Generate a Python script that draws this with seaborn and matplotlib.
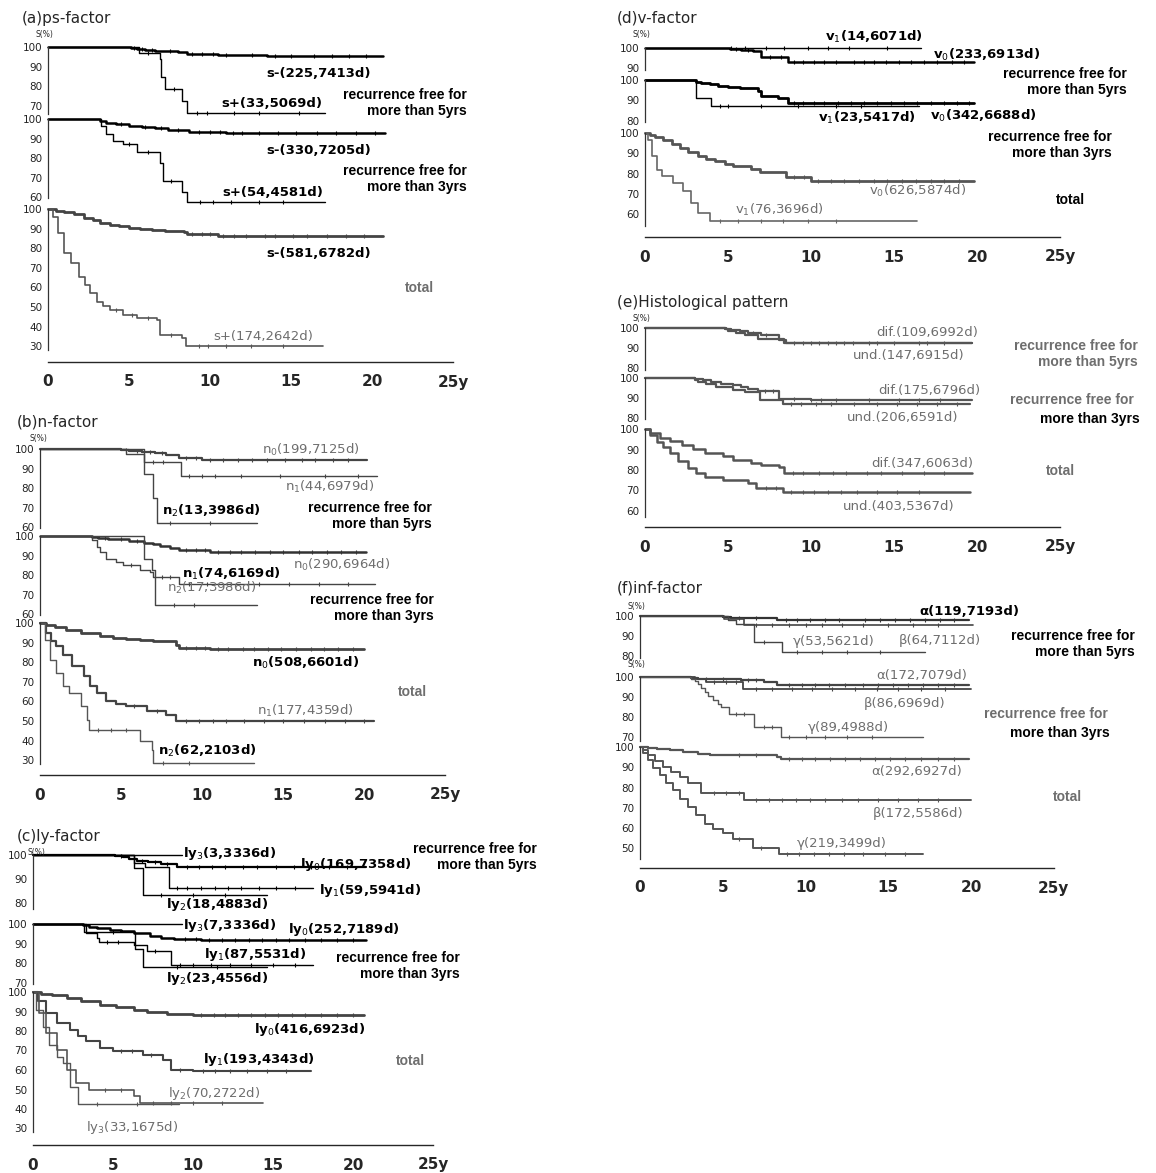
import numpy as np
import matplotlib
matplotlib.use("Agg")
import matplotlib.pyplot as plt
import seaborn as sns

W, H = 1156, 1173
GRAY = "#6e6e6e"

# ---------------- (a) ps-factor ----------------
a5_neg_t = [0, 5.1, 5.5, 6.0, 6.6, 7.2, 8.0, 8.6, 10.5, 13.5, 20.7]
a5_neg_s = [100, 99.5, 99.0, 98.5, 98.0, 97.8, 97.3, 96.4, 95.8, 95.3, 95.3]
a5_neg_c = [5.3, 5.8, 6.4, 7.5, 8.9, 9.5, 10.2, 11.0, 12.6, 14.0, 15.0, 16.4, 17.5, 18.6, 19.6]
a5_pos_t = [0, 5.6, 6.9, 7.0, 7.2, 8.3, 8.6, 17.1]
a5_pos_s = [100, 97.0, 93.9, 84.8, 78.8, 72.7, 66.7, 66.7]
a5_pos_c = [6.2, 7.8, 9.2, 9.8, 11.5, 13.0, 15.5]

a3_neg_t = [0, 3.2, 3.6, 4.2, 5.0, 5.8, 6.6, 7.4, 8.4, 8.7, 11.0, 20.8]
a3_neg_s = [100, 99.0, 98.0, 97.2, 96.5, 95.8, 95.2, 94.6, 94.2, 93.4, 93.0, 93.0]
a3_neg_c = [4.5, 6.0, 7.0, 8.0, 9.3, 10.0, 10.6, 11.4, 12.0, 13.0, 14.2, 15.3, 16.6, 17.8, 19.0, 20.2]
a3_pos_t = [0, 3.3, 3.6, 4.0, 4.6, 5.5, 6.9, 7.1, 8.3, 8.6, 17.1]
a3_pos_s = [100, 96.3, 92.6, 88.9, 87.0, 83.3, 77.8, 68.5, 63.0, 57.4, 57.4]
a3_pos_c = [5.0, 6.2, 7.6, 9.4, 10.2, 11.3, 13.0, 14.5]

a0_neg_t = [0, 0.5, 1.0, 1.6, 2.2, 2.8, 3.2, 3.8, 4.4, 5.0, 5.7, 6.4, 7.2, 8.4, 8.6, 10.5, 20.7]
a0_neg_s = [100, 99.2, 98.4, 97.3, 95.4, 94.2, 93.0, 92.0, 91.2, 90.5, 89.9, 89.3, 88.7, 88.1, 87.0, 86.3, 86.3]
a0_neg_c = [8.9, 9.5, 10.0, 10.8, 11.5, 12.2, 13.4, 14.0, 15.1, 16.0, 17.2, 18.4, 19.5]
a0_pos_t = [0, 0.3, 0.6, 1.0, 1.4, 1.9, 2.3, 2.6, 3.0, 3.4, 3.8, 4.6, 5.5, 6.7, 6.9, 8.3, 8.5, 17.0]
a0_pos_s = [100, 96.0, 87.7, 77.5, 72.4, 65.5, 61.0, 57.0, 52.7, 50.5, 48.5, 46.0, 44.2, 43.4, 35.7, 34.0, 30.0, 30.0]
a0_pos_c = [4.2, 5.2, 6.2, 7.6, 9.3, 9.9, 11.0, 12.5, 14.5]

# ---------------- (b) n-factor ----------------
b5_n0_t = [0, 5.0, 5.5, 6.3, 7.1, 7.8, 8.6, 10.0, 20.2]
b5_n0_s = [100, 99.5, 99.0, 98.5, 98.0, 96.8, 95.4, 94.5, 94.5]
b5_n0_c = [5.3, 6.0, 6.8, 7.5, 9.0, 9.6, 10.5, 11.3, 12.2, 13.1, 14.0, 15.1, 16.2, 17.0, 18.1, 19.0]
b5_n1_t = [0, 5.3, 6.4, 8.7, 20.8]
b5_n1_s = [100, 97.7, 93.2, 86.4, 86.4]
b5_n1_c = [7.0, 7.6, 9.2, 10.0, 10.8, 12.4, 14.8, 17.6, 19.6]
b5_n2_t = [0, 6.4, 7.0, 7.2, 13.4]
b5_n2_s = [100, 87.0, 75.0, 62.0, 62.0]
b5_n2_c = [8.0, 10.5]

b3_n0_t = [0, 3.2, 3.6, 4.2, 4.7, 5.5, 6.4, 7.0, 7.4, 8.0, 8.6, 10.5, 20.1]
b3_n0_s = [100, 99.6, 99.0, 98.6, 98.3, 97.4, 96.6, 95.7, 94.9, 93.8, 92.9, 92.0, 92.0]
b3_n0_c = [4.0, 5.0, 6.0, 9.0, 9.6, 10.2, 11.0, 11.7, 12.4, 13.3, 14.2, 15.0, 16.0, 16.8, 17.7, 18.6, 19.5]
b3_n1_t = [0, 3.2, 3.5, 3.7, 4.1, 4.7, 5.1, 6.2, 6.8, 7.0, 8.6, 20.7]
b3_n1_s = [100, 97.8, 94.6, 91.8, 88.4, 86.7, 85.0, 82.5, 81.6, 79.0, 75.7, 75.7]
b3_n1_c = [5.6, 7.5, 8.0, 9.2, 10.3, 11.8, 13.5, 15.4, 17.2, 19.0]
b3_n2_t = [0, 6.4, 6.9, 7.1, 13.4]
b3_n2_s = [100, 88.2, 82.4, 64.7, 64.7]
b3_n2_c = [8.3, 9.5]

b0_n0_t = [0, 0.4, 0.9, 1.6, 2.5, 3.7, 4.5, 5.3, 6.2, 7.0, 8.4, 8.6, 10.5, 20.0]
b0_n0_s = [100, 99.0, 98.0, 96.6, 95.0, 93.5, 92.6, 91.8, 91.2, 90.6, 88.9, 87.2, 86.5, 86.5]
b0_n0_c = [9.0, 9.6, 10.2, 11.0, 11.6, 12.5, 13.2, 14.1, 14.9, 15.8, 16.7, 17.5, 18.4, 19.3]
b0_n1_t = [0, 0.4, 0.7, 1.0, 1.4, 2.0, 2.7, 3.1, 3.5, 4.1, 4.7, 5.3, 6.6, 7.8, 8.4, 20.6]
b0_n1_s = [100, 94.9, 91.0, 88.1, 83.8, 77.9, 72.8, 68.0, 64.3, 60.0, 58.5, 57.5, 54.9, 53.2, 50.2, 50.2]
b0_n1_c = [5.8, 7.2, 9.0, 9.8, 10.7, 11.5, 12.6, 13.8, 15.0, 16.3, 17.6, 18.8, 20.0]
b0_n2_t = [0, 0.3, 0.6, 1.0, 1.4, 1.8, 2.5, 2.9, 3.0, 6.2, 6.9, 7.0, 13.2]
b0_n2_s = [100, 91.5, 81.3, 74.5, 67.7, 64.3, 57.5, 50.7, 45.6, 39.6, 35.3, 28.5, 28.5]
b0_n2_c = [3.6, 4.4, 5.3, 7.6, 9.2]

# ---------------- (c) ly-factor ----------------
c5_ly3_t = [0, 9.3]
c5_ly3_s = [100, 100]
c5_ly0_t = [0, 5.1, 5.6, 6.0, 6.5, 7.2, 8.0, 9.0, 20.8]
c5_ly0_s = [100, 99.5, 99.0, 98.3, 97.6, 96.9, 96.2, 95.0, 95.0]
c5_ly0_c = [5.5, 6.8, 7.6, 8.4, 9.6, 10.4, 11.2, 12.0, 13.1, 14.0, 15.2, 16.3, 17.4, 18.5, 19.6]
c5_ly1_t = [0, 6.3, 7.0, 8.5, 17.5]
c5_ly1_s = [100, 96.6, 94.9, 86.4, 86.4]
c5_ly1_c = [9.0, 9.6, 10.5, 11.4, 12.2, 13.0, 14.1, 15.2, 16.4]
c5_ly2_t = [0, 6.3, 6.9, 14.6]
c5_ly2_s = [100, 94.4, 83.3, 83.3]
c5_ly2_c = [8.0, 10.0, 12.0]

c3_ly3_t = [0, 9.3]
c3_ly3_s = [100, 100]
c3_ly0_t = [0, 3.1, 3.5, 4.0, 4.8, 5.5, 6.3, 7.3, 8.0, 8.8, 10.5, 20.8]
c3_ly0_s = [100, 99.3, 98.6, 97.8, 97.1, 96.2, 95.4, 93.7, 93.0, 92.3, 91.7, 91.7]
c3_ly0_c = [9.5, 10.2, 11.0, 11.8, 12.6, 13.5, 14.3, 15.2, 16.0, 17.0, 18.0, 19.0, 20.0]
c3_ly1_t = [0, 3.3, 4.0, 4.1, 6.3, 7.1, 8.6, 17.5]
c3_ly1_s = [100, 95.4, 92.9, 90.6, 89.5, 86.1, 78.9, 78.9]
c3_ly1_c = [4.6, 5.3, 7.6, 9.2, 10.0, 11.1, 12.3, 13.6, 15.0, 16.4]
c3_ly2_t = [0, 3.2, 6.4, 6.9, 14.6]
c3_ly2_s = [100, 95.7, 87.0, 78.3, 78.3]
c3_ly2_c = [5.0, 9.0, 11.5]

c0_ly0_t = [0, 0.5, 1.2, 2.1, 3.0, 4.2, 5.2, 6.3, 7.1, 8.4, 10.0, 20.7]
c0_ly0_s = [100, 99.2, 98.4, 97.0, 95.5, 93.5, 92.2, 91.0, 89.6, 88.8, 88.0, 88.0]
c0_ly0_c = [10.5, 11.3, 12.0, 12.8, 13.6, 14.5, 15.3, 16.2, 17.0, 18.0, 19.0, 20.0]
c0_ly1_t = [0, 0.3, 0.8, 1.5, 2.3, 2.8, 3.3, 4.2, 5.0, 6.9, 8.1, 8.6, 10.0, 17.4]
c0_ly1_s = [100, 95.2, 89.3, 84.1, 80.7, 77.5, 74.7, 71.3, 69.6, 67.9, 65.3, 60.2, 59.3, 59.3]
c0_ly1_c = [5.5, 6.2, 7.4, 9.2, 10.6, 11.4, 12.3, 13.4, 14.6, 15.8]
c0_ly2_t = [0, 0.4, 0.8, 1.5, 2.1, 2.7, 3.5, 6.3, 6.7, 14.4]
c0_ly2_s = [100, 89.3, 79.0, 70.5, 60.2, 53.3, 49.9, 46.5, 42.9, 42.9]
c0_ly2_c = [4.5, 5.5, 7.5, 8.6, 10.0, 11.8]
c0_ly3_t = [0, 0.2, 0.6, 1.0, 1.5, 1.9, 2.3, 2.8, 9.1]
c0_ly3_s = [100, 90.9, 81.8, 72.7, 66.7, 63.6, 51.5, 42.4, 42.4]
c0_ly3_c = [4.0, 6.5]

# ---------------- (d) v-factor ----------------
d5_v1_t = [0, 16.6]
d5_v1_s = [100, 100]
d5_v1_c = [5.2, 6.0, 7.3, 8.4, 9.8, 11.0, 12.3, 14.6]
d5_v0_t = [0, 5.1, 5.8, 6.5, 7.0, 8.6, 19.8]
d5_v0_s = [100, 99.4, 98.9, 98.4, 95.7, 93.1, 93.1]
d5_v0_c = [5.5, 6.2, 7.5, 8.2, 9.0, 9.5, 10.2, 10.8, 11.5, 12.6, 13.2, 13.8, 14.5, 15.3, 16.0, 16.8, 17.6, 18.5, 19.2]

d3_v0_t = [0, 3.1, 3.4, 3.9, 4.4, 5.0, 5.7, 6.8, 7.0, 8.0, 8.6, 19.8]
d3_v0_s = [100, 99.2, 98.5, 97.8, 97.0, 96.4, 95.9, 94.7, 92.1, 91.0, 88.5, 88.5]
d3_v0_c = [9.0, 9.5, 10.2, 10.8, 11.6, 12.4, 13.2, 14.0, 14.8, 15.6, 16.4, 17.2, 18.0, 18.8, 19.5]
d3_v1_t = [0, 3.1, 4.0, 16.5]
d3_v1_s = [100, 91.3, 87.0, 87.0]
d3_v1_c = [4.5, 5.0, 7.0, 9.2, 11.5, 13.0]

d0_v0_t = [0, 0.3, 0.6, 1.1, 1.6, 2.1, 2.6, 3.2, 3.7, 4.2, 4.8, 5.3, 6.4, 6.9, 8.5, 10.0, 19.8]
d0_v0_s = [100, 99.0, 98.0, 96.7, 94.6, 92.6, 90.5, 88.5, 87.2, 86.0, 84.7, 83.6, 82.4, 80.8, 78.3, 76.5, 76.5]
d0_v0_c = [9.0, 9.6, 10.4, 11.2, 12.0, 12.9, 13.8, 14.6, 15.5, 16.3, 17.2, 18.0, 18.9]
d0_v1_t = [0, 0.2, 0.4, 0.7, 1.0, 1.7, 2.3, 2.8, 3.2, 3.9, 16.4]
d0_v1_s = [100, 96.7, 88.5, 82.0, 78.7, 75.4, 71.3, 65.6, 60.6, 56.5, 56.5]
d0_v1_c = [4.5, 5.6, 7.0, 8.3, 9.8, 11.5]

# ---------------- (e) histological pattern ----------------
e5_dif_t = [0, 4.9, 5.2, 5.7, 6.2, 7.0, 8.1, 8.5, 19.7]
e5_dif_s = [100, 99.6, 99.2, 98.3, 97.5, 96.7, 94.2, 92.5, 92.5]
e5_dif_c = [6.5, 7.3, 9.0, 10.0, 11.0, 12.0, 13.5, 15.0, 16.5, 18.0]
e5_und_t = [0, 4.8, 5.0, 5.5, 6.0, 6.8, 8.4, 19.7]
e5_und_s = [100, 99.3, 98.6, 97.5, 96.5, 94.5, 92.3, 92.3]
e5_und_c = [9.5, 10.5, 11.5, 12.5, 14.0, 17.0]

e3_dif_t = [0, 3.0, 3.5, 4.0, 4.6, 5.3, 5.8, 6.2, 6.8, 8.1, 10.0, 19.7]
e3_dif_s = [100, 99.4, 98.8, 98.0, 97.2, 96.3, 95.5, 94.7, 93.3, 89.7, 89.2, 89.2]
e3_dif_c = [7.2, 7.7, 9.0, 10.0, 10.6, 11.5, 13.5, 15.3, 16.5, 17.8]
e3_und_t = [0, 3.0, 3.2, 3.7, 4.3, 5.3, 6.0, 6.9, 8.3, 19.6]
e3_und_s = [100, 99.0, 98.0, 96.8, 95.5, 93.8, 93.0, 89.2, 87.2, 87.2]
e3_und_c = [8.8, 9.4, 10.3, 11.2, 12.6, 14.0, 15.2, 16.4, 17.6, 18.8]

e0_dif_t = [0, 0.3, 0.9, 1.5, 2.2, 2.9, 3.6, 4.7, 5.3, 6.4, 7.0, 8.1, 8.4, 19.7]
e0_dif_s = [100, 98.2, 95.6, 94.0, 92.3, 90.2, 88.2, 86.6, 84.9, 83.6, 82.5, 81.6, 78.7, 78.7]
e0_dif_c = [8.9, 9.5, 10.5, 11.3, 12.1, 13.4, 14.2, 15.5, 16.8, 18.0]
e0_und_t = [0, 0.3, 0.7, 1.1, 1.5, 2.0, 2.6, 3.1, 3.6, 4.7, 6.2, 6.7, 8.3, 19.6]
e0_und_s = [100, 97.0, 93.9, 91.0, 88.2, 84.5, 80.8, 78.5, 76.7, 75.1, 73.8, 71.0, 69.3, 69.3]
e0_und_c = [7.3, 7.9, 8.8, 9.5, 10.2, 11.0, 11.8, 12.8, 14.0, 15.2, 16.5]

# ---------------- (f) inf-factor ----------------
f5_a_t = [0, 5.0, 5.5, 6.5, 8.3, 19.9]
f5_a_s = [100, 99.6, 99.2, 98.8, 97.8, 97.8]
f5_a_c = [6.0, 7.0, 8.8, 9.5, 10.3, 11.2, 12.0, 13.6, 14.5, 15.4, 16.3, 17.2, 18.1, 19.0]
f5_b_t = [0, 5.1, 6.3, 20.1]
f5_b_s = [100, 98.4, 95.3, 95.3]
f5_b_c = [7.0, 8.0, 9.0, 10.0, 11.0, 12.2, 13.5, 15.0, 16.5, 18.0]
f5_g_t = [0, 5.3, 5.8, 6.9, 8.6, 17.2]
f5_g_s = [100, 98.1, 96.2, 86.8, 81.7, 81.7]
f5_g_c = [7.5, 9.5, 11.0, 12.5, 14.5]

f3_a_t = [0, 3.1, 3.5, 4.5, 6.1, 7.5, 8.3, 19.9]
f3_a_s = [100, 99.4, 99.2, 98.8, 98.3, 97.7, 96.0, 96.0]
f3_a_c = [4.0, 5.0, 6.5, 7.0, 9.0, 9.8, 10.6, 11.4, 12.4, 13.5, 14.4, 15.3, 16.2, 17.1, 18.0, 19.0]
f3_b_t = [0, 3.3, 4.0, 6.2, 20.0]
f3_b_s = [100, 98.8, 97.7, 94.2, 94.2]
f3_b_c = [4.5, 5.2, 5.8, 7.0, 8.0, 9.2, 10.4, 11.6, 13.0, 14.3, 15.6, 17.0, 18.4]
f3_g_t = [0, 3.1, 3.3, 3.5, 3.7, 3.9, 4.1, 4.4, 4.7, 4.9, 5.4, 6.9, 8.5, 17.1]
f3_g_s = [100, 98.9, 97.8, 96.7, 94.4, 92.5, 90.4, 88.3, 86.5, 85.0, 81.7, 75.0, 70.0, 70.0]
f3_g_c = [5.8, 6.3, 7.5, 8.0, 9.0, 10.0, 11.2, 12.5, 14.0]

f0_a_t = [0, 0.5, 1.0, 1.8, 2.6, 3.5, 4.2, 5.0, 8.3, 8.5, 19.9]
f0_a_s = [100, 99.6, 99.2, 98.4, 97.6, 96.7, 96.2, 95.9, 95.1, 94.3, 94.3]
f0_a_c = [6.0, 7.0, 9.0, 9.8, 10.6, 11.5, 12.4, 13.3, 14.2, 15.1, 16.0, 17.0, 18.0, 19.0]
f0_b_t = [0, 0.2, 0.5, 0.9, 1.4, 1.9, 2.4, 2.9, 3.7, 6.3, 20.0]
f0_b_s = [100, 98.5, 95.9, 93.0, 90.2, 87.5, 85.2, 82.3, 77.4, 73.8, 73.8]
f0_b_c = [4.5, 5.2, 6.0, 7.0, 7.8, 8.6, 9.4, 10.3, 11.2, 12.2, 13.2, 14.4, 15.6, 16.8, 18.0]
f0_g_t = [0, 0.2, 0.5, 0.8, 1.2, 1.6, 2.0, 2.4, 2.9, 3.4, 3.9, 4.4, 5.0, 5.6, 6.8, 8.4, 17.1]
f0_g_s = [100, 97.0, 93.4, 89.8, 86.1, 82.4, 78.7, 74.6, 70.5, 66.4, 62.3, 59.8, 57.4, 54.9, 50.0, 47.5, 47.5]
f0_g_c = [6.0, 7.3, 8.9, 9.6, 10.5, 11.4, 12.3, 13.5, 14.8, 16.0]


sns.set_style("white")
plt.rcParams["font.family"] = ["DejaVu Sans"]

fig = plt.figure(figsize=(W / 100, H / 100), dpi=100)


def px(x, y):
    return x / W, 1 - y / H


def sub_axes(x0, ppy, ytop, lo, ppp, ticks):
    bottom = ytop + (100 - lo) * ppp
    ax = fig.add_axes([x0 / W, 1 - bottom / H, 25 * ppy / W, (bottom - ytop) / H])
    ax.set_xlim(0, 25)
    ax.set_ylim(lo, 100)
    ax.set_xticks([])
    ax.set_yticks(ticks)
    ax.set_yticklabels([str(t) for t in ticks])
    ax.tick_params(axis="y", labelsize=7.5, length=2.5, width=0.8, pad=1.5, colors="#222222")
    sns.despine(ax=ax, top=True, right=True, bottom=True)
    ax.spines["left"].set_linewidth(0.9)
    ax.spines["left"].set_color("#333333")
    ax.patch.set_alpha(0)
    return ax


def x_axis(x0, ppy, y):
    ax = fig.add_axes([x0 / W, 1 - y / H, 25 * ppy / W, 0.0001])
    ax.set_xlim(0, 25)
    ax.set_yticks([])
    ax.set_xticks([0, 5, 10, 15, 20, 25])
    ax.set_xticklabels(["0", "5", "10", "15", "20", "25y"])
    ax.tick_params(axis="x", direction="out", length=7, width=1.0, labelsize=11, pad=2)
    for lab in ax.get_xticklabels():
        lab.set_fontweight("bold")
    sns.despine(ax=ax, top=True, right=True, left=True)
    ax.spines["bottom"].set_linewidth(1.0)
    ax.patch.set_alpha(0)


def panel(x0, ppy, subs, xy, title, txy, sxy):
    axs = [sub_axes(x0, ppy, *s) for s in subs]
    x_axis(x0, ppy, xy)
    fig.text(*px(*txy), title, fontsize=11, ha="left", va="center")
    for p in sxy:
        fig.text(*px(*p), "S(%)", fontsize=5.5, ha="left", va="center")
    return axs


def km(ax, t, s, c=None, color="black", lw=1.0):
    sns.lineplot(x=t, y=s, ax=ax, drawstyle="steps-post", color=color, lw=lw,
                 estimator=None, sort=False, legend=False, clip_on=False)
    if c:
        idx = np.searchsorted(t, c, side="right") - 1
        ys = np.asarray(s)[idx]
        ax.plot(c, ys, ls="none", marker="|", ms=2.8, mew=0.8, color=color, clip_on=False)


def lab(ax, x, y, text, color="black"):
    w = "bold" if color == "black" else "normal"
    ax.text(x, y, text, fontsize=9.5, ha="center", va="center", color=color,
            fontweight=w, clip_on=False)


def side(x, y, text, color="black"):
    fig.text(*px(x, y), text, fontsize=10, ha="right", va="center", color=color,
             fontweight="bold", family="Liberation Sans", linespacing=1.2)


# ---- (a)
ax = panel(48, 16.2, [(47, 66, 1.97, [100, 90, 80, 70]),
                      (119, 59.5, 1.96, [100, 90, 80, 70, 60]),
                      (209, 28, 1.96, [100, 90, 80, 70, 60, 50, 40, 30])],
           362, "(a)ps-factor", (22, 18), [(35, 35)])
km(ax[0], a5_neg_t, a5_neg_s, a5_neg_c, lw=1.8)
km(ax[0], a5_pos_t, a5_pos_s, a5_pos_c, lw=1.0)
km(ax[1], a3_neg_t, a3_neg_s, a3_neg_c, lw=1.8)
km(ax[1], a3_pos_t, a3_pos_s, a3_pos_c, lw=1.0)
km(ax[2], a0_neg_t, a0_neg_s, a0_neg_c, color="#444444", lw=2.0)
km(ax[2], a0_pos_t, a0_pos_s, a0_pos_c, color="#555555", lw=1.2)
lab(ax[0], 16.7, 86.7, "s-(225,7413d)")
lab(ax[0], 13.8, 71.4, "s+(33,5069d)")
lab(ax[1], 16.7, 84.0, "s-(330,7205d)")
lab(ax[1], 13.9, 62.6, "s+(54,4581d)")
lab(ax[2], 16.7, 77.5, "s-(581,6782d)")
lab(ax[2], 13.3, 34.8, "s+(174,2642d)", GRAY)
side(467, 103, "recurrence free for\nmore than 5yrs")
side(467, 179, "recurrence free for\nmore than 3yrs")
side(434, 288, "total", GRAY)

# ---- (b)
ax = panel(40, 16.2, [(449, 59.5, 1.96, [100, 90, 80, 70, 60]),
                      (536, 59.5, 1.96, [100, 90, 80, 70, 60]),
                      (623, 28, 1.96, [100, 90, 80, 70, 60, 50, 40, 30])],
           775, "(b)n-factor", (17, 422), [(30, 438)])
km(ax[0], b5_n0_t, b5_n0_s, b5_n0_c, color="#444444", lw=1.6)
km(ax[0], b5_n1_t, b5_n1_s, b5_n1_c, color="#444444", lw=1.0)
km(ax[0], b5_n2_t, b5_n2_s, b5_n2_c, color="#444444", lw=1.0)
km(ax[1], b3_n0_t, b3_n0_s, b3_n0_c, color="#333333", lw=1.8)
km(ax[1], b3_n1_t, b3_n1_s, b3_n1_c, color="#444444", lw=1.0)
km(ax[1], b3_n2_t, b3_n2_s, b3_n2_c, color="#444444", lw=1.0)
km(ax[2], b0_n0_t, b0_n0_s, b0_n0_c, color="#444444", lw=2.0)
km(ax[2], b0_n1_t, b0_n1_s, b0_n1_c, color="#444444", lw=1.6)
km(ax[2], b0_n2_t, b0_n2_s, b0_n2_c, color="#555555", lw=1.0)
lab(ax[0], 16.7, 99.5, "n$_0$(199,7125d)", GRAY)
lab(ax[0], 17.9, 80.8, "n$_1$(44,6979d)", GRAY)
lab(ax[0], 10.6, 68.2, "n$_2$(13,3986d)")
lab(ax[1], 11.8, 80.6, "n$_1$(74,6169d)")
lab(ax[1], 18.6, 85.4, "n$_0$(290,6964d)", GRAY)
lab(ax[1], 10.6, 73.5, "n$_2$(17,3986d)", GRAY)
lab(ax[2], 16.4, 79.6, "n$_0$(508,6601d)")
lab(ax[2], 16.4, 55.3, "n$_1$(177,4359d)", GRAY)
lab(ax[2], 10.3, 34.5, "n$_2$(62,2103d)")
side(432, 516, "recurrence free for\nmore than 5yrs")
side(434, 608, "recurrence free for\nmore than 3yrs")
side(427, 692, "total", GRAY)

# ---- (c)
ax = panel(33, 16.0, [(855, 77.5, 2.4, [100, 90, 80]),
                      (924, 69.5, 1.96, [100, 90, 80, 70]),
                      (992, 28, 1.95, [100, 90, 80, 70, 60, 50, 40, 30])],
           1145, "(c)ly-factor", (17, 837), [(28, 852)])
km(ax[0], c5_ly3_t, c5_ly3_s, None, lw=1.0)
km(ax[0], c5_ly0_t, c5_ly0_s, c5_ly0_c, lw=1.6)
km(ax[0], c5_ly1_t, c5_ly1_s, c5_ly1_c, lw=1.0)
km(ax[0], c5_ly2_t, c5_ly2_s, c5_ly2_c, lw=1.0)
km(ax[1], c3_ly3_t, c3_ly3_s, None, lw=1.0)
km(ax[1], c3_ly0_t, c3_ly0_s, c3_ly0_c, lw=1.8)
km(ax[1], c3_ly1_t, c3_ly1_s, c3_ly1_c, lw=1.0)
km(ax[1], c3_ly2_t, c3_ly2_s, c3_ly2_c, lw=1.0)
km(ax[2], c0_ly0_t, c0_ly0_s, c0_ly0_c, color="#444444", lw=2.0)
km(ax[2], c0_ly1_t, c0_ly1_s, c0_ly1_c, color="#444444", lw=1.5)
km(ax[2], c0_ly2_t, c0_ly2_s, c0_ly2_c, color="#555555", lw=1.2)
km(ax[2], c0_ly3_t, c0_ly3_s, c0_ly3_c, color="#555555", lw=1.0)
lab(ax[0], 12.3, 100.6, "ly$_3$(3,3336d)")
lab(ax[0], 20.2, 96.2, "ly$_0$(169,7358d)")
lab(ax[0], 21.1, 85.1, "ly$_1$(59,5941d)")
lab(ax[0], 11.5, 79.2, "ly$_2$(18,4883d)")
lab(ax[1], 12.3, 99.1, "ly$_3$(7,3336d)")
lab(ax[1], 19.4, 97.1, "ly$_0$(252,7189d)")
lab(ax[1], 13.9, 84.4, "ly$_1$(87,5531d)")
lab(ax[1], 11.5, 72.0, "ly$_2$(23,4556d)")
lab(ax[2], 17.3, 80.7, "ly$_0$(416,6923d)")
lab(ax[2], 14.1, 65.3, "ly$_1$(193,4343d)")
lab(ax[2], 11.3, 48.0, "ly$_2$(70,2722d)", GRAY)
lab(ax[2], 6.2, 30.7, "ly$_3$(33,1675d)", GRAY)
side(537, 857, "recurrence free for\nmore than 5yrs")
side(460, 966, "recurrence free for\nmore than 3yrs")
side(425, 1061, "total", GRAY)

# ---- (d)
ax = panel(645, 16.6, [(48, 89.5, 2.05, [100, 90]),
                       (80, 79.5, 2.03, [100, 90, 80]),
                       (133, 54, 2.03, [100, 90, 80, 70, 60])],
           237, "(d)v-factor", (617, 18), [(632, 34)])
km(ax[0], d5_v1_t, d5_v1_s, d5_v1_c, lw=1.0)
km(ax[0], d5_v0_t, d5_v0_s, d5_v0_c, lw=1.8)
km(ax[1], d3_v0_t, d3_v0_s, d3_v0_c, lw=2.0)
km(ax[1], d3_v1_t, d3_v1_s, d3_v1_c, lw=1.0)
km(ax[2], d0_v0_t, d0_v0_s, d0_v0_c, color="#555555", lw=2.0)
km(ax[2], d0_v1_t, d0_v1_s, d0_v1_c, color="#666666", lw=1.2)
lab(ax[0], 13.8, 105.6, "v$_1$(14,6071d)")
lab(ax[0], 20.6, 96.8, "v$_0$(233,6913d)")
lab(ax[1], 13.4, 81.1, "v$_1$(23,5417d)")
lab(ax[1], 20.4, 82.3, "v$_0$(342,6688d)")
lab(ax[2], 16.4, 71.3, "v$_0$(626,5874d)", GRAY)
lab(ax[2], 8.1, 62.3, "v$_1$(76,3696d)", GRAY)
side(1127, 82, "recurrence free for\nmore than 5yrs")
side(1112, 145, "recurrence free for\nmore than 3yrs")
side(1085, 200, "total")

# ---- (e)
ax = panel(645, 16.6, [(328, 79, 2.0, [100, 90, 80]),
                       (378, 79.5, 2.0, [100, 90, 80]),
                       (429, 57, 2.05, [100, 90, 80, 70, 60])],
           527, "(e)Histological pattern", (617, 302), [(632, 318)])
km(ax[0], e5_dif_t, e5_dif_s, e5_dif_c, color="#555555", lw=1.6)
km(ax[0], e5_und_t, e5_und_s, e5_und_c, color="#555555", lw=1.6)
km(ax[1], e3_dif_t, e3_dif_s, e3_dif_c, color="#555555", lw=1.6)
km(ax[1], e3_und_t, e3_und_s, e3_und_c, color="#555555", lw=1.6)
km(ax[2], e0_dif_t, e0_dif_s, e0_dif_c, color="#555555", lw=1.8)
km(ax[2], e0_und_t, e0_und_s, e0_und_c, color="#555555", lw=1.8)
lab(ax[0], 17.0, 97.8, "dif.(109,6992d)", GRAY)
lab(ax[0], 15.9, 86.2, "und.(147,6915d)", GRAY)
lab(ax[1], 17.1, 93.8, "dif.(175,6796d)", GRAY)
lab(ax[1], 15.5, 80.5, "und.(206,6591d)", GRAY)
lab(ax[2], 16.7, 83.3, "dif.(347,6063d)", GRAY)
lab(ax[2], 15.3, 62.3, "und.(403,5367d)", GRAY)
side(1138, 354, "recurrence free for\nmore than 5yrs", GRAY)
side(1134, 400, "recurrence free for", GRAY)
side(1140, 419, "more than 3yrs")
side(1075, 471, "total", GRAY)

# ---- (f)
ax = panel(640, 16.55, [(616, 79, 1.98, [100, 90, 80]),
                        (677, 68, 2.0, [100, 90, 80, 70]),
                        (747, 45, 2.03, [100, 90, 80, 70, 60, 50])],
           868, "(f)inf-factor", (617, 588), [(627, 606), (627, 664)])
km(ax[0], f5_a_t, f5_a_s, f5_a_c, color="#333333", lw=1.6)
km(ax[0], f5_b_t, f5_b_s, f5_b_c, color="#444444", lw=1.2)
km(ax[0], f5_g_t, f5_g_s, f5_g_c, color="#444444", lw=1.0)
km(ax[1], f3_a_t, f3_a_s, f3_a_c, color="#444444", lw=1.6)
km(ax[1], f3_b_t, f3_b_s, f3_b_c, color="#444444", lw=1.3)
km(ax[1], f3_g_t, f3_g_s, f3_g_c, color="#555555", lw=1.0)
km(ax[2], f0_a_t, f0_a_s, f0_a_c, color="#555555", lw=1.6)
km(ax[2], f0_b_t, f0_b_s, f0_b_c, color="#555555", lw=1.4)
km(ax[2], f0_g_t, f0_g_s, f0_g_c, color="#555555", lw=1.4)
lab(ax[0], 19.9, 102.5, "α(119,7193d)")
lab(ax[0], 11.7, 87.1, "γ(53,5621d)", GRAY)
lab(ax[0], 18.1, 87.6, "β(64,7112d)", GRAY)
lab(ax[1], 17.0, 100.8, "α(172,7079d)", GRAY)
lab(ax[1], 16.0, 86.7, "β(86,6969d)", GRAY)
lab(ax[1], 12.6, 75.0, "γ(89,4988d)", GRAY)
lab(ax[2], 16.7, 87.7, "α(292,6927d)", GRAY)
lab(ax[2], 16.8, 67.2, "β(172,5586d)", GRAY)
lab(ax[2], 12.2, 52.5, "γ(219,3499d)", GRAY)
side(1135, 644, "recurrence free for\nmore than 5yrs")
side(1108, 714, "recurrence free for", GRAY)
side(1110, 733, "more than 3yrs")
side(1082, 797, "total", GRAY)

fig.savefig("out.png", dpi=100, facecolor="white")
